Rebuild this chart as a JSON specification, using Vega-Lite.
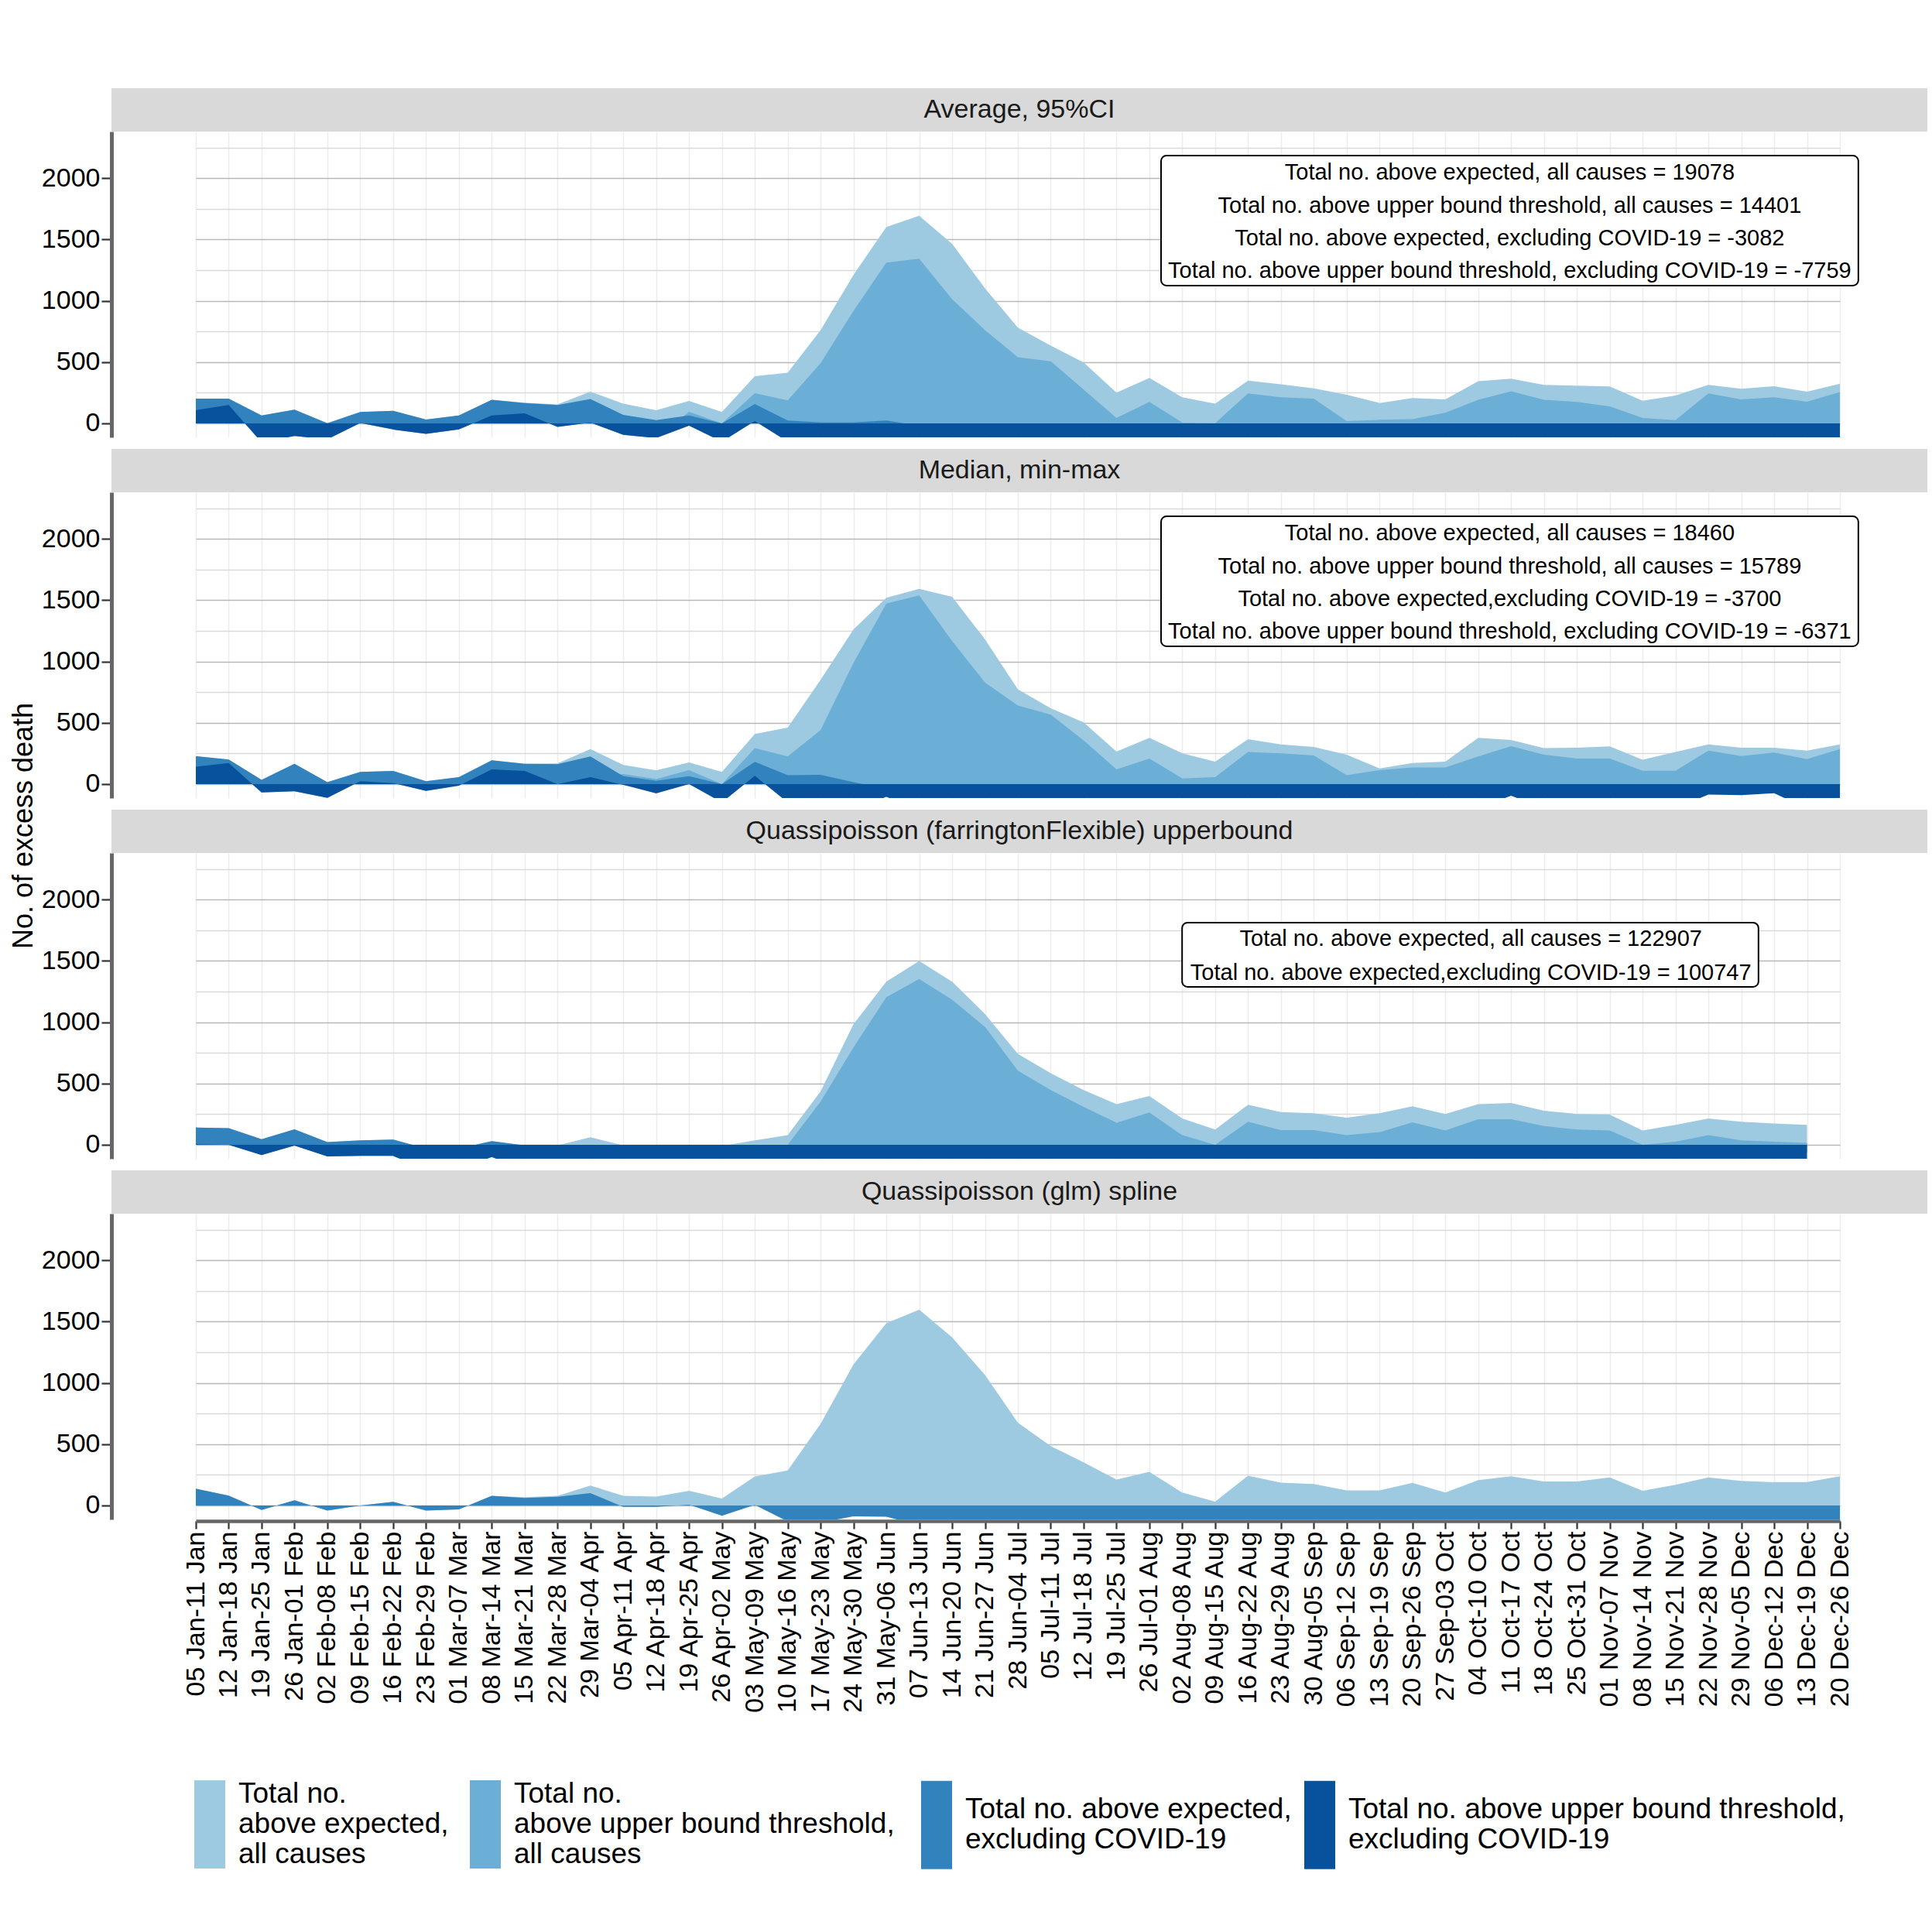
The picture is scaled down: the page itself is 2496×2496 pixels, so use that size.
{
"$schema": "https://vega.github.io/schema/vega-lite/v6.json",
"padding": {"left": 0, "top": 114, "right": 3, "bottom": 5},
"config": {
 "font": "Liberation Sans",
 "view": {"stroke": null},
 "text": {"font": "Liberation Sans"},
 "axis": {"labelFont": "Liberation Sans", "titleFont": "Liberation Sans", "labelColor": "black", "titleColor": "black"},
 "legend": {"orient": "none", "direction": "horizontal", "symbolSize": 1600, "symbolStrokeWidth": 0, "symbolOpacity": 1, "labelFontSize": 37, "labelFont": "Liberation Sans", "labelColor": "black", "labelLimit": 2000, "labelOffset": 17, "padding": 0, "offset": 0}
},
"datasets": {
"p1": [
{"w":"05 Jan-11 Jan","L":202,"M":107,"D3":202,"D4":107},
{"w":"12 Jan-18 Jan","L":202,"M":149,"D3":202,"D4":149},
{"w":"19 Jan-25 Jan","L":65,"M":-155,"D3":65,"D4":-155},
{"w":"26 Jan-01 Feb","L":112,"M":-103,"D3":112,"D4":-103},
{"w":"02 Feb-08 Feb","L":2,"M":-130,"D3":2,"D4":-130},
{"w":"09 Feb-15 Feb","L":93,"M":3,"D3":93,"D4":3},
{"w":"16 Feb-22 Feb","L":103,"M":-50,"D3":103,"D4":-50},
{"w":"23 Feb-29 Feb","L":32,"M":-86,"D3":32,"D4":-86},
{"w":"01 Mar-07 Mar","L":65,"M":-50,"D3":65,"D4":-50},
{"w":"08 Mar-14 Mar","L":192,"M":65,"D3":192,"D4":65},
{"w":"15 Mar-21 Mar","L":168,"M":82,"D3":166,"D4":82},
{"w":"22 Mar-28 Mar","L":154,"M":-29,"D3":149,"D4":-29},
{"w":"29 Mar-04 Apr","L":259,"M":6,"D3":198,"D4":6},
{"w":"05 Apr-11 Apr","L":160,"M":-93,"D3":69,"D4":-93},
{"w":"12 Apr-18 Apr","L":107,"M":-120,"D3":27,"D4":-120},
{"w":"19 Apr-25 Apr","L":183,"M":95,"D3":65,"D4":-19},
{"w":"26 Apr-02 May","L":93,"M":0,"D3":0,"D4":-150},
{"w":"03 May-09 May","L":385,"M":246,"D3":158,"D4":19},
{"w":"10 May-16 May","L":413,"M":187,"D3":23,"D4":-150},
{"w":"17 May-23 May","L":760,"M":490,"D3":8,"D4":-200},
{"w":"24 May-30 May","L":1210,"M":916,"D3":8,"D4":-200},
{"w":"31 May-06 Jun","L":1602,"M":1312,"D3":23,"D4":-200},
{"w":"07 Jun-13 Jun","L":1693,"M":1343,"D3":-20,"D4":-200},
{"w":"14 Jun-20 Jun","L":1465,"M":1013,"D3":-120,"D4":-200},
{"w":"21 Jun-27 Jun","L":1101,"M":760,"D3":-120,"D4":-200},
{"w":"28 Jun-04 Jul","L":781,"M":539,"D3":-120,"D4":-200},
{"w":"05 Jul-11 Jul","L":634,"M":507,"D3":-120,"D4":-200},
{"w":"12 Jul-18 Jul","L":497,"M":276,"D3":-120,"D4":-200},
{"w":"19 Jul-25 Jul","L":250,"M":44,"D3":-120,"D4":-200},
{"w":"26 Jul-01 Aug","L":370,"M":175,"D3":-120,"D4":-200},
{"w":"02 Aug-08 Aug","L":213,"M":6,"D3":-120,"D4":-200},
{"w":"09 Aug-15 Aug","L":160,"M":2,"D3":-120,"D4":-200},
{"w":"16 Aug-22 Aug","L":349,"M":244,"D3":-120,"D4":-200},
{"w":"23 Aug-29 Aug","L":318,"M":213,"D3":-120,"D4":-200},
{"w":"30 Aug-05 Sep","L":286,"M":202,"D3":-120,"D4":-200},
{"w":"06 Sep-12 Sep","L":234,"M":19,"D3":-120,"D4":-200},
{"w":"13 Sep-19 Sep","L":166,"M":29,"D3":-120,"D4":-200},
{"w":"20 Sep-26 Sep","L":206,"M":34,"D3":-120,"D4":-200},
{"w":"27 Sep-03 Oct","L":196,"M":86,"D3":-120,"D4":-200},
{"w":"04 Oct-10 Oct","L":343,"M":192,"D3":-120,"D4":-200},
{"w":"11 Oct-17 Oct","L":364,"M":261,"D3":-120,"D4":-200},
{"w":"18 Oct-24 Oct","L":314,"M":192,"D3":-120,"D4":-200},
{"w":"25 Oct-31 Oct","L":307,"M":175,"D3":-120,"D4":-200},
{"w":"01 Nov-07 Nov","L":301,"M":139,"D3":-120,"D4":-200},
{"w":"08 Nov-14 Nov","L":185,"M":44,"D3":-120,"D4":-200},
{"w":"15 Nov-21 Nov","L":227,"M":27,"D3":-120,"D4":-200},
{"w":"22 Nov-28 Nov","L":314,"M":244,"D3":-120,"D4":-200},
{"w":"29 Nov-05 Dec","L":282,"M":196,"D3":-120,"D4":-200},
{"w":"06 Dec-12 Dec","L":303,"M":213,"D3":-120,"D4":-200},
{"w":"13 Dec-19 Dec","L":259,"M":177,"D3":-120,"D4":-200},
{"w":"20 Dec-26 Dec","L":324,"M":255,"D3":-120,"D4":-200}
],
"p2": [
{"w":"05 Jan-11 Jan","L":227,"M":141,"D3":227,"D4":141},
{"w":"12 Jan-18 Jan","L":200,"M":171,"D3":200,"D4":171},
{"w":"19 Jan-25 Jan","L":34,"M":-69,"D3":34,"D4":-69},
{"w":"26 Jan-01 Feb","L":166,"M":-59,"D3":166,"D4":-59},
{"w":"02 Feb-08 Feb","L":15,"M":-112,"D3":15,"D4":-112},
{"w":"09 Feb-15 Feb","L":99,"M":23,"D3":99,"D4":23},
{"w":"16 Feb-22 Feb","L":107,"M":8,"D3":107,"D4":8},
{"w":"23 Feb-29 Feb","L":23,"M":-55,"D3":23,"D4":-55},
{"w":"01 Mar-07 Mar","L":57,"M":-13,"D3":57,"D4":-13},
{"w":"08 Mar-14 Mar","L":194,"M":120,"D3":194,"D4":120},
{"w":"15 Mar-21 Mar","L":166,"M":107,"D3":166,"D4":107},
{"w":"22 Mar-28 Mar","L":168,"M":0,"D3":162,"D4":0},
{"w":"29 Mar-04 Apr","L":286,"M":57,"D3":225,"D4":57},
{"w":"05 Apr-11 Apr","L":156,"M":82,"D3":65,"D4":-6},
{"w":"12 Apr-18 Apr","L":112,"M":40,"D3":27,"D4":-76},
{"w":"19 Apr-25 Apr","L":177,"M":114,"D3":65,"D4":0},
{"w":"26 Apr-02 May","L":99,"M":0,"D3":0,"D4":-150},
{"w":"03 May-09 May","L":408,"M":293,"D3":181,"D4":67},
{"w":"10 May-16 May","L":461,"M":225,"D3":72,"D4":-150},
{"w":"17 May-23 May","L":850,"M":440,"D3":75,"D4":-200},
{"w":"24 May-30 May","L":1261,"M":987,"D3":15,"D4":-200},
{"w":"31 May-06 Jun","L":1520,"M":1472,"D3":-40,"D4":-105},
{"w":"07 Jun-13 Jun","L":1592,"M":1539,"D3":-60,"D4":-200},
{"w":"14 Jun-20 Jun","L":1528,"M":1166,"D3":-60,"D4":-200},
{"w":"21 Jun-27 Jun","L":1181,"M":829,"D3":-60,"D4":-200},
{"w":"28 Jun-04 Jul","L":773,"M":640,"D3":-60,"D4":-200},
{"w":"05 Jul-11 Jul","L":619,"M":566,"D3":-60,"D4":-200},
{"w":"12 Jul-18 Jul","L":503,"M":356,"D3":-60,"D4":-200},
{"w":"19 Jul-25 Jul","L":265,"M":120,"D3":-60,"D4":-200},
{"w":"26 Jul-01 Aug","L":377,"M":208,"D3":-60,"D4":-200},
{"w":"02 Aug-08 Aug","L":251,"M":46,"D3":-60,"D4":-200},
{"w":"09 Aug-15 Aug","L":183,"M":57,"D3":-60,"D4":-200},
{"w":"16 Aug-22 Aug","L":366,"M":261,"D3":-60,"D4":-200},
{"w":"23 Aug-29 Aug","L":324,"M":251,"D3":-60,"D4":-200},
{"w":"30 Aug-05 Sep","L":303,"M":234,"D3":-60,"D4":-200},
{"w":"06 Sep-12 Sep","L":240,"M":72,"D3":-60,"D4":-200},
{"w":"13 Sep-19 Sep","L":128,"M":114,"D3":-60,"D4":-200},
{"w":"20 Sep-26 Sep","L":171,"M":135,"D3":-60,"D4":-200},
{"w":"27 Sep-03 Oct","L":183,"M":135,"D3":-60,"D4":-200},
{"w":"04 Oct-10 Oct","L":377,"M":225,"D3":-60,"D4":-200},
{"w":"11 Oct-17 Oct","L":360,"M":309,"D3":-60,"D4":-95},
{"w":"18 Oct-24 Oct","L":293,"M":240,"D3":-60,"D4":-200},
{"w":"25 Oct-31 Oct","L":297,"M":208,"D3":-60,"D4":-200},
{"w":"01 Nov-07 Nov","L":307,"M":208,"D3":-60,"D4":-200},
{"w":"08 Nov-14 Nov","L":198,"M":109,"D3":-60,"D4":-200},
{"w":"15 Nov-21 Nov","L":261,"M":109,"D3":-60,"D4":-200},
{"w":"22 Nov-28 Nov","L":324,"M":272,"D3":-60,"D4":-85},
{"w":"29 Nov-05 Dec","L":297,"M":229,"D3":-60,"D4":-90},
{"w":"06 Dec-12 Dec","L":297,"M":257,"D3":-60,"D4":-75},
{"w":"13 Dec-19 Dec","L":272,"M":204,"D3":-60,"D4":-200},
{"w":"20 Dec-26 Dec","L":324,"M":286,"D3":-60,"D4":-200}
],
"p3": [
{"w":"05 Jan-11 Jan","L":141,"M":5,"D3":141,"D4":5},
{"w":"12 Jan-18 Jan","L":135,"M":0,"D3":135,"D4":0},
{"w":"19 Jan-25 Jan","L":46,"M":-84,"D3":46,"D4":-84},
{"w":"26 Jan-01 Feb","L":126,"M":-6,"D3":126,"D4":-6},
{"w":"02 Feb-08 Feb","L":21,"M":-95,"D3":21,"D4":-95},
{"w":"09 Feb-15 Feb","L":36,"M":-91,"D3":36,"D4":-91},
{"w":"16 Feb-22 Feb","L":42,"M":-91,"D3":42,"D4":-91},
{"w":"23 Feb-29 Feb","L":-30,"M":-200,"D3":-30,"D4":-200},
{"w":"01 Mar-07 Mar","L":-30,"M":-200,"D3":-30,"D4":-200},
{"w":"08 Mar-14 Mar","L":29,"M":-100,"D3":29,"D4":-100},
{"w":"15 Mar-21 Mar","L":-5,"M":-200,"D3":-5,"D4":-200},
{"w":"22 Mar-28 Mar","L":-5,"M":-50,"D3":-60,"D4":-200},
{"w":"29 Mar-04 Apr","L":61,"M":-50,"D3":-60,"D4":-200},
{"w":"05 Apr-11 Apr","L":-5,"M":-50,"D3":-60,"D4":-200},
{"w":"12 Apr-18 Apr","L":-20,"M":-50,"D3":-60,"D4":-200},
{"w":"19 Apr-25 Apr","L":-20,"M":-50,"D3":-60,"D4":-200},
{"w":"26 Apr-02 May","L":-10,"M":-50,"D3":-60,"D4":-200},
{"w":"03 May-09 May","L":36,"M":-10,"D3":-60,"D4":-200},
{"w":"10 May-16 May","L":78,"M":0,"D3":-60,"D4":-200},
{"w":"17 May-23 May","L":436,"M":352,"D3":-60,"D4":-200},
{"w":"24 May-30 May","L":983,"M":794,"D3":-60,"D4":-200},
{"w":"31 May-06 Jun","L":1331,"M":1204,"D3":-60,"D4":-200},
{"w":"07 Jun-13 Jun","L":1499,"M":1352,"D3":-60,"D4":-200},
{"w":"14 Jun-20 Jun","L":1331,"M":1183,"D3":-60,"D4":-200},
{"w":"21 Jun-27 Jun","L":1067,"M":962,"D3":-60,"D4":-200},
{"w":"28 Jun-04 Jul","L":741,"M":604,"D3":-60,"D4":-200},
{"w":"05 Jul-11 Jul","L":583,"M":446,"D3":-60,"D4":-200},
{"w":"12 Jul-18 Jul","L":446,"M":309,"D3":-60,"D4":-200},
{"w":"19 Jul-25 Jul","L":331,"M":179,"D3":-60,"D4":-200},
{"w":"26 Jul-01 Aug","L":398,"M":263,"D3":-60,"D4":-200},
{"w":"02 Aug-08 Aug","L":215,"M":78,"D3":-60,"D4":-200},
{"w":"09 Aug-15 Aug","L":124,"M":0,"D3":-60,"D4":-200},
{"w":"16 Aug-22 Aug","L":326,"M":187,"D3":-60,"D4":-200},
{"w":"23 Aug-29 Aug","L":267,"M":120,"D3":-60,"D4":-200},
{"w":"30 Aug-05 Sep","L":257,"M":120,"D3":-60,"D4":-200},
{"w":"06 Sep-12 Sep","L":221,"M":78,"D3":-60,"D4":-200},
{"w":"13 Sep-19 Sep","L":257,"M":103,"D3":-60,"D4":-200},
{"w":"20 Sep-26 Sep","L":314,"M":183,"D3":-60,"D4":-200},
{"w":"27 Sep-03 Oct","L":251,"M":116,"D3":-60,"D4":-200},
{"w":"04 Oct-10 Oct","L":331,"M":208,"D3":-60,"D4":-200},
{"w":"11 Oct-17 Oct","L":341,"M":208,"D3":-60,"D4":-200},
{"w":"18 Oct-24 Oct","L":278,"M":152,"D3":-60,"D4":-200},
{"w":"25 Oct-31 Oct","L":251,"M":124,"D3":-60,"D4":-200},
{"w":"01 Nov-07 Nov","L":246,"M":116,"D3":-60,"D4":-200},
{"w":"08 Nov-14 Nov","L":116,"M":0,"D3":-60,"D4":-200},
{"w":"15 Nov-21 Nov","L":162,"M":25,"D3":-60,"D4":-200},
{"w":"22 Nov-28 Nov","L":215,"M":78,"D3":-60,"D4":-200},
{"w":"29 Nov-05 Dec","L":187,"M":36,"D3":-60,"D4":-200},
{"w":"06 Dec-12 Dec","L":173,"M":25,"D3":-60,"D4":-200},
{"w":"13 Dec-19 Dec","L":162,"M":15,"D3":-60,"D4":-200}
],
"p4": [
{"w":"05 Jan-11 Jan","L":137,"D3":137},
{"w":"12 Jan-18 Jan","L":80,"D3":80},
{"w":"19 Jan-25 Jan","L":-36,"D3":-36},
{"w":"26 Jan-01 Feb","L":42,"D3":42},
{"w":"02 Feb-08 Feb","L":-42,"D3":-42},
{"w":"09 Feb-15 Feb","L":0,"D3":0},
{"w":"16 Feb-22 Feb","L":30,"D3":30},
{"w":"23 Feb-29 Feb","L":-42,"D3":-42},
{"w":"01 Mar-07 Mar","L":-32,"D3":-32},
{"w":"08 Mar-14 Mar","L":78,"D3":78},
{"w":"15 Mar-21 Mar","L":67,"D3":61},
{"w":"22 Mar-28 Mar","L":78,"D3":70},
{"w":"29 Mar-04 Apr","L":162,"D3":101},
{"w":"05 Apr-11 Apr","L":78,"D3":-11},
{"w":"12 Apr-18 Apr","L":72,"D3":-11},
{"w":"19 Apr-25 Apr","L":120,"D3":6},
{"w":"26 Apr-02 May","L":57,"D3":-84},
{"w":"03 May-09 May","L":236,"D3":4},
{"w":"10 May-16 May","L":285,"D3":-130},
{"w":"17 May-23 May","L":665,"D3":-140},
{"w":"24 May-30 May","L":1150,"D3":-88},
{"w":"31 May-06 Jun","L":1487,"D3":-92},
{"w":"07 Jun-13 Jun","L":1597,"D3":-160},
{"w":"14 Jun-20 Jun","L":1371,"D3":-180},
{"w":"21 Jun-27 Jun","L":1065,"D3":-180},
{"w":"28 Jun-04 Jul","L":675,"D3":-180},
{"w":"05 Jul-11 Jul","L":485,"D3":-180},
{"w":"12 Jul-18 Jul","L":352,"D3":-180},
{"w":"19 Jul-25 Jul","L":211,"D3":-180},
{"w":"26 Jul-01 Aug","L":274,"D3":-180},
{"w":"02 Aug-08 Aug","L":105,"D3":-180},
{"w":"09 Aug-15 Aug","L":32,"D3":-180},
{"w":"16 Aug-22 Aug","L":243,"D3":-180},
{"w":"23 Aug-29 Aug","L":186,"D3":-180},
{"w":"30 Aug-05 Sep","L":175,"D3":-180},
{"w":"06 Sep-12 Sep","L":122,"D3":-180},
{"w":"13 Sep-19 Sep","L":122,"D3":-180},
{"w":"20 Sep-26 Sep","L":184,"D3":-180},
{"w":"27 Sep-03 Oct","L":105,"D3":-180},
{"w":"04 Oct-10 Oct","L":207,"D3":-180},
{"w":"11 Oct-17 Oct","L":238,"D3":-180},
{"w":"18 Oct-24 Oct","L":196,"D3":-180},
{"w":"25 Oct-31 Oct","L":196,"D3":-180},
{"w":"01 Nov-07 Nov","L":228,"D3":-180},
{"w":"08 Nov-14 Nov","L":120,"D3":-180},
{"w":"15 Nov-21 Nov","L":169,"D3":-180},
{"w":"22 Nov-28 Nov","L":228,"D3":-180},
{"w":"29 Nov-05 Dec","L":200,"D3":-180},
{"w":"06 Dec-12 Dec","L":190,"D3":-180},
{"w":"13 Dec-19 Dec","L":190,"D3":-180},
{"w":"20 Dec-26 Dec","L":238,"D3":-180}
]
},
"spacing": 3,
"hconcat": [
{"width": 50, "height": 1849, "data": {"values": [{"t": "No. of excess death"}]},
 "mark": {"type": "text", "angle": -90, "fontSize": 36, "color": "black", "dx": -28.5, "dy": 6},
 "encoding": {"text": {"field": "t"}}},
{"spacing": 15, "vconcat": [
{"spacing": 0, "vconcat": [
 {"data": {"values": [{"p": "Average, 95%CI"}]}, "width": 2346, "height": 56, "view": {"fill": "#d9d9d9", "stroke": null},
  "mark": {"type": "text", "fontSize": 34, "color": "#1a1a1a"}, "encoding": {"text": {"field": "p"}}},
 {"width": 2346, "height": 395, "resolve": {"scale": {"x": "independent"}},
  "layer": [
   {"data": {"name": "p1"},
    "encoding": {"x": {"field": "w", "type": "ordinal", "scale": {"type": "point", "padding": 0, "range": [109, 2233], "domain": ["05 Jan-11 Jan","12 Jan-18 Jan","19 Jan-25 Jan","26 Jan-01 Feb","02 Feb-08 Feb","09 Feb-15 Feb","16 Feb-22 Feb","23 Feb-29 Feb","01 Mar-07 Mar","08 Mar-14 Mar","15 Mar-21 Mar","22 Mar-28 Mar","29 Mar-04 Apr","05 Apr-11 Apr","12 Apr-18 Apr","19 Apr-25 Apr","26 Apr-02 May","03 May-09 May","10 May-16 May","17 May-23 May","24 May-30 May","31 May-06 Jun","07 Jun-13 Jun","14 Jun-20 Jun","21 Jun-27 Jun","28 Jun-04 Jul","05 Jul-11 Jul","12 Jul-18 Jul","19 Jul-25 Jul","26 Jul-01 Aug","02 Aug-08 Aug","09 Aug-15 Aug","16 Aug-22 Aug","23 Aug-29 Aug","30 Aug-05 Sep","06 Sep-12 Sep","13 Sep-19 Sep","20 Sep-26 Sep","27 Sep-03 Oct","04 Oct-10 Oct","11 Oct-17 Oct","18 Oct-24 Oct","25 Oct-31 Oct","01 Nov-07 Nov","08 Nov-14 Nov","15 Nov-21 Nov","22 Nov-28 Nov","29 Nov-05 Dec","06 Dec-12 Dec","13 Dec-19 Dec","20 Dec-26 Dec"]},
      "axis": {"title": null, "labels": false, "ticks": false, "domain": false, "grid": true, "gridColor": "#ededed", "gridWidth": 1.6}}},
    "layer": [
     {"mark": {"type": "area", "clip": true, "opacity": 1}, "encoding": {"y": {"field": "L", "type": "quantitative", "scale": {"domain": [-114, 2380], "nice": false, "zero": false},
        "axis": {"title": null, "values": [0,250,500,750,1000,1250,1500,1750,2000,2250], "format": "d", "labelExpr": "datum.value % 500 == 0 ? datum.label : ''", "grid": true, "gridColor": {"condition": {"test": "datum.value % 500 == 0", "value": "#b8b8b8"}, "value": "#dadada"}, "gridWidth": 1.6, "tickColor": {"condition": {"test": "datum.value % 500 == 0", "value": "#333333"}, "value": "transparent"}, "tickSize": 13, "tickWidth": 2.2, "domain": true, "domainColor": "#666666", "domainWidth": 5, "labelFontSize": 34, "labelPadding": 2}},
       "y2": {"datum": 0}, "color": {"datum": "L", "type": "nominal", "scale": {"domain": ["L","M"], "range": ["#9ecae1","#6baed6"]}, "legend": {"title": null, "legendX": 251, "legendY": 2184, "columnPadding": 27, "symbolType": "M-1,-0.9L1,-0.9L1,4.8L-1,4.8Z", "labelExpr": "datum.value == 'L' ? ['Total no.', 'above expected,', 'all causes'] : ['Total no.', 'above upper bound threshold,', 'all causes']"}}}},
     {"mark": {"type": "area", "clip": true, "opacity": 1}, "encoding": {"y": {"field": "M", "type": "quantitative", "title": null, "scale": {"domain": [-114, 2380], "nice": false, "zero": false}}, "y2": {"datum": 0}, "color": {"datum": "M", "type": "nominal", "scale": {"domain": ["L","M"], "range": ["#9ecae1","#6baed6"]}, "legend": {"title": null, "legendX": 251, "legendY": 2184, "columnPadding": 27, "symbolType": "M-1,-0.9L1,-0.9L1,4.8L-1,4.8Z", "labelExpr": "datum.value == 'L' ? ['Total no.', 'above expected,', 'all causes'] : ['Total no.', 'above upper bound threshold,', 'all causes']"}}}},
     {"mark": {"type": "area", "clip": true, "opacity": 1}, "encoding": {"y": {"field": "D3", "type": "quantitative", "title": null, "scale": {"domain": [-114, 2380], "nice": false, "zero": false}}, "y2": {"datum": 0}, "fill": {"datum": "D3", "type": "nominal", "scale": {"domain": ["D3","D4"], "range": ["#3182bd","#08519c"]}, "legend": {"title": null, "legendX": 1190, "legendY": 2204, "columnPadding": 16, "symbolType": "M-1,-1.875L1,-1.875L1,3.825L-1,3.825Z", "labelExpr": "datum.value == 'D3' ? ['Total no. above expected,', 'excluding COVID-19'] : ['Total no. above upper bound threshold,', 'excluding COVID-19']"}}}},
     {"mark": {"type": "area", "clip": true, "opacity": 1}, "encoding": {"y": {"field": "D4", "type": "quantitative", "title": null, "scale": {"domain": [-114, 2380], "nice": false, "zero": false}}, "y2": {"datum": 0}, "fill": {"datum": "D4", "type": "nominal", "scale": {"domain": ["D3","D4"], "range": ["#3182bd","#08519c"]}, "legend": {"title": null, "legendX": 1190, "legendY": 2204, "columnPadding": 16, "symbolType": "M-1,-1.875L1,-1.875L1,3.825L-1,3.825Z", "labelExpr": "datum.value == 'D3' ? ['Total no. above expected,', 'excluding COVID-19'] : ['Total no. above upper bound threshold,', 'excluding COVID-19']"}}}}
    ]},
   {"data": {"values": [{"x1": 0.578, "x2": 0.962, "y1": 1124, "y2": 2184}]}, "mark": {"type": "rect", "fill": "white", "stroke": "black", "strokeWidth": 2, "cornerRadius": 7},
    "encoding": {"x": {"field": "x1", "type": "quantitative", "scale": {"domain": [0, 1], "nice": false, "zero": false}, "axis": null}, "x2": {"field": "x2"}, "y": {"field": "y1", "type": "quantitative", "title": null, "scale": {"domain": [-114, 2380], "nice": false, "zero": false}}, "y2": {"field": "y2"}}},
   {"data": {"values": [
     {"x": 0.770, "y": 2045, "t": "Total no. above expected, all causes = 19078"},
     {"x": 0.770, "y": 1774, "t": "Total no. above upper bound threshold, all causes = 14401"},
     {"x": 0.770, "y": 1509, "t": "Total no. above expected, excluding COVID-19 = -3082"},
     {"x": 0.770, "y": 1244, "t": "Total no. above upper bound threshold, excluding COVID-19 = -7759"}]},
    "mark": {"type": "text", "fontSize": 29, "color": "black", "align": "center", "baseline": "middle"},
    "encoding": {"x": {"field": "x", "type": "quantitative", "scale": {"domain": [0, 1], "nice": false, "zero": false}, "axis": null}, "y": {"field": "y", "type": "quantitative", "title": null, "scale": {"domain": [-114, 2380], "nice": false, "zero": false}}, "text": {"field": "t"}}}
  ]}
]},
{"spacing": 0, "vconcat": [
 {"data": {"values": [{"p": "Median, min-max"}]}, "width": 2346, "height": 56, "view": {"fill": "#d9d9d9", "stroke": null},
  "mark": {"type": "text", "fontSize": 34, "color": "#1a1a1a"}, "encoding": {"text": {"field": "p"}}},
 {"width": 2346, "height": 395, "resolve": {"scale": {"x": "independent"}},
  "layer": [
   {"data": {"name": "p2"},
    "encoding": {"x": {"field": "w", "type": "ordinal", "scale": {"type": "point", "padding": 0, "range": [109, 2233], "domain": ["05 Jan-11 Jan","12 Jan-18 Jan","19 Jan-25 Jan","26 Jan-01 Feb","02 Feb-08 Feb","09 Feb-15 Feb","16 Feb-22 Feb","23 Feb-29 Feb","01 Mar-07 Mar","08 Mar-14 Mar","15 Mar-21 Mar","22 Mar-28 Mar","29 Mar-04 Apr","05 Apr-11 Apr","12 Apr-18 Apr","19 Apr-25 Apr","26 Apr-02 May","03 May-09 May","10 May-16 May","17 May-23 May","24 May-30 May","31 May-06 Jun","07 Jun-13 Jun","14 Jun-20 Jun","21 Jun-27 Jun","28 Jun-04 Jul","05 Jul-11 Jul","12 Jul-18 Jul","19 Jul-25 Jul","26 Jul-01 Aug","02 Aug-08 Aug","09 Aug-15 Aug","16 Aug-22 Aug","23 Aug-29 Aug","30 Aug-05 Sep","06 Sep-12 Sep","13 Sep-19 Sep","20 Sep-26 Sep","27 Sep-03 Oct","04 Oct-10 Oct","11 Oct-17 Oct","18 Oct-24 Oct","25 Oct-31 Oct","01 Nov-07 Nov","08 Nov-14 Nov","15 Nov-21 Nov","22 Nov-28 Nov","29 Nov-05 Dec","06 Dec-12 Dec","13 Dec-19 Dec","20 Dec-26 Dec"]},
      "axis": {"title": null, "labels": false, "ticks": false, "domain": false, "grid": true, "gridColor": "#ededed", "gridWidth": 1.6}}},
    "layer": [
     {"mark": {"type": "area", "clip": true, "opacity": 1}, "encoding": {"y": {"field": "L", "type": "quantitative", "scale": {"domain": [-114, 2380], "nice": false, "zero": false},
        "axis": {"title": null, "values": [0,250,500,750,1000,1250,1500,1750,2000,2250], "format": "d", "labelExpr": "datum.value % 500 == 0 ? datum.label : ''", "grid": true, "gridColor": {"condition": {"test": "datum.value % 500 == 0", "value": "#b8b8b8"}, "value": "#dadada"}, "gridWidth": 1.6, "tickColor": {"condition": {"test": "datum.value % 500 == 0", "value": "#333333"}, "value": "transparent"}, "tickSize": 13, "tickWidth": 2.2, "domain": true, "domainColor": "#666666", "domainWidth": 5, "labelFontSize": 34, "labelPadding": 2}},
       "y2": {"datum": 0}, "color": {"datum": "L", "type": "nominal", "scale": {"domain": ["L","M"], "range": ["#9ecae1","#6baed6"]}}}},
     {"mark": {"type": "area", "clip": true, "opacity": 1}, "encoding": {"y": {"field": "M", "type": "quantitative", "title": null, "scale": {"domain": [-114, 2380], "nice": false, "zero": false}}, "y2": {"datum": 0}, "color": {"datum": "M", "type": "nominal", "scale": {"domain": ["L","M"], "range": ["#9ecae1","#6baed6"]}}}},
     {"mark": {"type": "area", "clip": true, "opacity": 1}, "encoding": {"y": {"field": "D3", "type": "quantitative", "title": null, "scale": {"domain": [-114, 2380], "nice": false, "zero": false}}, "y2": {"datum": 0}, "fill": {"datum": "D3", "type": "nominal", "scale": {"domain": ["D3","D4"], "range": ["#3182bd","#08519c"]}}}},
     {"mark": {"type": "area", "clip": true, "opacity": 1}, "encoding": {"y": {"field": "D4", "type": "quantitative", "title": null, "scale": {"domain": [-114, 2380], "nice": false, "zero": false}}, "y2": {"datum": 0}, "fill": {"datum": "D4", "type": "nominal", "scale": {"domain": ["D3","D4"], "range": ["#3182bd","#08519c"]}}}}
    ]},
   {"data": {"values": [{"x1": 0.578, "x2": 0.962, "y1": 1124, "y2": 2184}]}, "mark": {"type": "rect", "fill": "white", "stroke": "black", "strokeWidth": 2, "cornerRadius": 7},
    "encoding": {"x": {"field": "x1", "type": "quantitative", "scale": {"domain": [0, 1], "nice": false, "zero": false}, "axis": null}, "x2": {"field": "x2"}, "y": {"field": "y1", "type": "quantitative", "title": null, "scale": {"domain": [-114, 2380], "nice": false, "zero": false}}, "y2": {"field": "y2"}}},
   {"data": {"values": [
     {"x": 0.770, "y": 2045, "t": "Total no. above expected, all causes = 18460"},
     {"x": 0.770, "y": 1774, "t": "Total no. above upper bound threshold, all causes = 15789"},
     {"x": 0.770, "y": 1509, "t": "Total no. above expected,excluding COVID-19 = -3700"},
     {"x": 0.770, "y": 1244, "t": "Total no. above upper bound threshold, excluding COVID-19 = -6371"}]},
    "mark": {"type": "text", "fontSize": 29, "color": "black", "align": "center", "baseline": "middle"},
    "encoding": {"x": {"field": "x", "type": "quantitative", "scale": {"domain": [0, 1], "nice": false, "zero": false}, "axis": null}, "y": {"field": "y", "type": "quantitative", "title": null, "scale": {"domain": [-114, 2380], "nice": false, "zero": false}}, "text": {"field": "t"}}}
  ]}
]},
{"spacing": 0, "vconcat": [
 {"data": {"values": [{"p": "Quassipoisson (farringtonFlexible) upperbound"}]}, "width": 2346, "height": 56, "view": {"fill": "#d9d9d9", "stroke": null},
  "mark": {"type": "text", "fontSize": 34, "color": "#1a1a1a"}, "encoding": {"text": {"field": "p"}}},
 {"width": 2346, "height": 395, "resolve": {"scale": {"x": "independent"}},
  "layer": [
   {"data": {"name": "p3"},
    "encoding": {"x": {"field": "w", "type": "ordinal", "scale": {"type": "point", "padding": 0, "range": [109, 2233], "domain": ["05 Jan-11 Jan","12 Jan-18 Jan","19 Jan-25 Jan","26 Jan-01 Feb","02 Feb-08 Feb","09 Feb-15 Feb","16 Feb-22 Feb","23 Feb-29 Feb","01 Mar-07 Mar","08 Mar-14 Mar","15 Mar-21 Mar","22 Mar-28 Mar","29 Mar-04 Apr","05 Apr-11 Apr","12 Apr-18 Apr","19 Apr-25 Apr","26 Apr-02 May","03 May-09 May","10 May-16 May","17 May-23 May","24 May-30 May","31 May-06 Jun","07 Jun-13 Jun","14 Jun-20 Jun","21 Jun-27 Jun","28 Jun-04 Jul","05 Jul-11 Jul","12 Jul-18 Jul","19 Jul-25 Jul","26 Jul-01 Aug","02 Aug-08 Aug","09 Aug-15 Aug","16 Aug-22 Aug","23 Aug-29 Aug","30 Aug-05 Sep","06 Sep-12 Sep","13 Sep-19 Sep","20 Sep-26 Sep","27 Sep-03 Oct","04 Oct-10 Oct","11 Oct-17 Oct","18 Oct-24 Oct","25 Oct-31 Oct","01 Nov-07 Nov","08 Nov-14 Nov","15 Nov-21 Nov","22 Nov-28 Nov","29 Nov-05 Dec","06 Dec-12 Dec","13 Dec-19 Dec","20 Dec-26 Dec"]},
      "axis": {"title": null, "labels": false, "ticks": false, "domain": false, "grid": true, "gridColor": "#ededed", "gridWidth": 1.6}}},
    "layer": [
     {"mark": {"type": "area", "clip": true, "opacity": 1}, "encoding": {"y": {"field": "L", "type": "quantitative", "scale": {"domain": [-114, 2380], "nice": false, "zero": false},
        "axis": {"title": null, "values": [0,250,500,750,1000,1250,1500,1750,2000,2250], "format": "d", "labelExpr": "datum.value % 500 == 0 ? datum.label : ''", "grid": true, "gridColor": {"condition": {"test": "datum.value % 500 == 0", "value": "#b8b8b8"}, "value": "#dadada"}, "gridWidth": 1.6, "tickColor": {"condition": {"test": "datum.value % 500 == 0", "value": "#333333"}, "value": "transparent"}, "tickSize": 13, "tickWidth": 2.2, "domain": true, "domainColor": "#666666", "domainWidth": 5, "labelFontSize": 34, "labelPadding": 2}},
       "y2": {"datum": 0}, "color": {"datum": "L", "type": "nominal", "scale": {"domain": ["L","M"], "range": ["#9ecae1","#6baed6"]}}}},
     {"mark": {"type": "area", "clip": true, "opacity": 1}, "encoding": {"y": {"field": "M", "type": "quantitative", "title": null, "scale": {"domain": [-114, 2380], "nice": false, "zero": false}}, "y2": {"datum": 0}, "color": {"datum": "M", "type": "nominal", "scale": {"domain": ["L","M"], "range": ["#9ecae1","#6baed6"]}}}},
     {"mark": {"type": "area", "clip": true, "opacity": 1}, "encoding": {"y": {"field": "D3", "type": "quantitative", "title": null, "scale": {"domain": [-114, 2380], "nice": false, "zero": false}}, "y2": {"datum": 0}, "fill": {"datum": "D3", "type": "nominal", "scale": {"domain": ["D3","D4"], "range": ["#3182bd","#08519c"]}}}},
     {"mark": {"type": "area", "clip": true, "opacity": 1}, "encoding": {"y": {"field": "D4", "type": "quantitative", "title": null, "scale": {"domain": [-114, 2380], "nice": false, "zero": false}}, "y2": {"datum": 0}, "fill": {"datum": "D4", "type": "nominal", "scale": {"domain": ["D3","D4"], "range": ["#3182bd","#08519c"]}}}}
    ]},
   {"data": {"values": [{"x1": 0.5896, "x2": 0.907, "y1": 1288, "y2": 1812}]}, "mark": {"type": "rect", "fill": "white", "stroke": "black", "strokeWidth": 2, "cornerRadius": 7},
    "encoding": {"x": {"field": "x1", "type": "quantitative", "scale": {"domain": [0, 1], "nice": false, "zero": false}, "axis": null}, "x2": {"field": "x2"}, "y": {"field": "y1", "type": "quantitative", "title": null, "scale": {"domain": [-114, 2380], "nice": false, "zero": false}}, "y2": {"field": "y2"}}},
   {"data": {"values": [
     {"x": 0.7486, "y": 1679, "t": "Total no. above expected, all causes = 122907"},
     {"x": 0.7486, "y": 1401, "t": "Total no. above expected,excluding COVID-19 = 100747"}]},
    "mark": {"type": "text", "fontSize": 29, "color": "black", "align": "center", "baseline": "middle"},
    "encoding": {"x": {"field": "x", "type": "quantitative", "scale": {"domain": [0, 1], "nice": false, "zero": false}, "axis": null}, "y": {"field": "y", "type": "quantitative", "title": null, "scale": {"domain": [-114, 2380], "nice": false, "zero": false}}, "text": {"field": "t"}}}
  ]}
]},
{"spacing": 0, "vconcat": [
 {"data": {"values": [{"p": "Quassipoisson (glm) spline"}]}, "width": 2346, "height": 56, "view": {"fill": "#d9d9d9", "stroke": null},
  "mark": {"type": "text", "fontSize": 34, "color": "#1a1a1a"}, "encoding": {"text": {"field": "p"}}},
 {"width": 2346, "height": 395,
  "data": {"name": "p4"},
  "encoding": {"x": {"field": "w", "type": "ordinal", "scale": {"type": "point", "padding": 0, "range": [109, 2233], "domain": ["05 Jan-11 Jan","12 Jan-18 Jan","19 Jan-25 Jan","26 Jan-01 Feb","02 Feb-08 Feb","09 Feb-15 Feb","16 Feb-22 Feb","23 Feb-29 Feb","01 Mar-07 Mar","08 Mar-14 Mar","15 Mar-21 Mar","22 Mar-28 Mar","29 Mar-04 Apr","05 Apr-11 Apr","12 Apr-18 Apr","19 Apr-25 Apr","26 Apr-02 May","03 May-09 May","10 May-16 May","17 May-23 May","24 May-30 May","31 May-06 Jun","07 Jun-13 Jun","14 Jun-20 Jun","21 Jun-27 Jun","28 Jun-04 Jul","05 Jul-11 Jul","12 Jul-18 Jul","19 Jul-25 Jul","26 Jul-01 Aug","02 Aug-08 Aug","09 Aug-15 Aug","16 Aug-22 Aug","23 Aug-29 Aug","30 Aug-05 Sep","06 Sep-12 Sep","13 Sep-19 Sep","20 Sep-26 Sep","27 Sep-03 Oct","04 Oct-10 Oct","11 Oct-17 Oct","18 Oct-24 Oct","25 Oct-31 Oct","01 Nov-07 Nov","08 Nov-14 Nov","15 Nov-21 Nov","22 Nov-28 Nov","29 Nov-05 Dec","06 Dec-12 Dec","13 Dec-19 Dec","20 Dec-26 Dec"]},
      "axis": {"title": null, "grid": true, "gridColor": "#ededed", "gridWidth": 1.6, "domain": true, "domainColor": "#666666", "domainWidth": 4.5, "offset": 2, "ticks": true, "tickColor": "#333333", "tickSize": 10, "tickWidth": 2.2, "labelAngle": -90, "labelAlign": "right", "labelBaseline": "middle", "labelFontSize": 34, "labelPadding": 3, "labelLimit": 400, "labelOverlap": false}}},
  "layer": [
     {"mark": {"type": "area", "clip": true, "opacity": 1}, "encoding": {"y": {"field": "L", "type": "quantitative", "scale": {"domain": [-114, 2380], "nice": false, "zero": false},
        "axis": {"title": null, "values": [0,250,500,750,1000,1250,1500,1750,2000,2250], "format": "d", "labelExpr": "datum.value % 500 == 0 ? datum.label : ''", "grid": true, "gridColor": {"condition": {"test": "datum.value % 500 == 0", "value": "#b8b8b8"}, "value": "#dadada"}, "gridWidth": 1.6, "tickColor": {"condition": {"test": "datum.value % 500 == 0", "value": "#333333"}, "value": "transparent"}, "tickSize": 13, "tickWidth": 2.2, "domain": true, "domainColor": "#666666", "domainWidth": 5, "labelFontSize": 34, "labelPadding": 2}},
       "y2": {"datum": 0}, "color": {"datum": "L", "type": "nominal", "scale": {"domain": ["L","M"], "range": ["#9ecae1","#6baed6"]}}}},
     {"mark": {"type": "area", "clip": true, "opacity": 1}, "encoding": {"y": {"field": "D3", "type": "quantitative", "title": null, "scale": {"domain": [-114, 2380], "nice": false, "zero": false}}, "y2": {"datum": 0}, "fill": {"datum": "D3", "type": "nominal", "scale": {"domain": ["D3","D4"], "range": ["#3182bd","#08519c"]}}}}
  ]}
]}
]}
]
}
